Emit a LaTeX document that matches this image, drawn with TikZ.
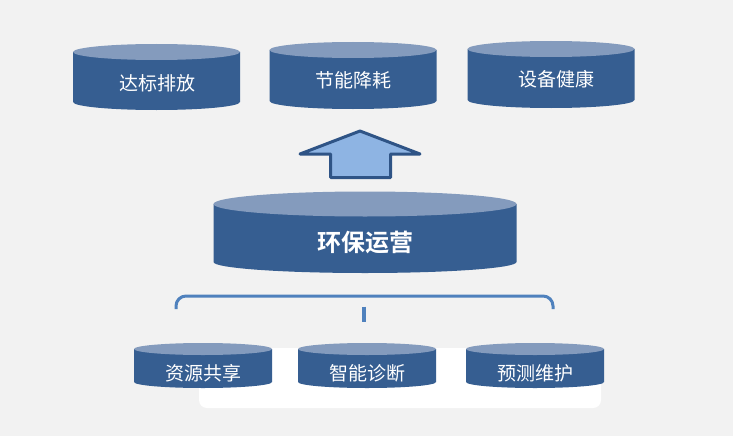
\documentclass[tikz,border=0pt]{standalone}
\usepackage{fontspec}
\newfontfamily\cjk{Noto Sans CJK SC}[BoldFont={Noto Sans CJK SC Bold}]
\definecolor{bgGray}{RGB}{242,242,242}
\definecolor{drumBody}{RGB}{54,94,145}
\definecolor{drumTop}{RGB}{132,155,189}
\definecolor{arrowFill}{RGB}{142,180,227}
\definecolor{arrowLine}{RGB}{47,84,134}
\definecolor{braceLine}{RGB}{79,129,189}
\tikzset{
    drum body/.style={fill=drumBody},
    drum top/.style={fill=drumTop},
    % white labels on the drums
    drum label/.style={
        text=white,
        font=\cjk\fontsize{19}{19}\selectfont,
        inner sep=0pt
    },
    core label/.style={
        text=white,
        font=\cjk\bfseries\fontsize{24}{24}\selectfont,
        inner sep=0pt
    }
}

\begin{document}
\begin{tikzpicture}[x=1pt,y=-1pt]

% canvas
\path[use as bounding box] (0,0) rectangle (733,436);
\fill[bgGray] (0,0) rectangle (733,436);

% white panel behind the lower drums
\fill[white, rounded corners=8] (199,348) rectangle (601,408);

% top row of drums
\fill[drum body] (73,52) -- (73,102) arc (180:0:83.5 and 8) -- (240,52) -- cycle;
\fill[drum top] (156.5,52) ellipse [x radius=83.5, y radius=8];
\node[drum label] (goalStd) at (157,83) {达标排放};

\fill[drum body] (269.5,50) -- (269.5,101) arc (180:0:83.5 and 8) -- (436.5,50) -- cycle;
\fill[drum top] (353,50) ellipse [x radius=83.5, y radius=8];
\node[drum label] (goalSave) at (353,80) {节能降耗};

\fill[drum body] (467.5,49) -- (467.5,100) arc (180:0:83.5 and 8) -- (634.5,49) -- cycle;
\fill[drum top] (551,49) ellipse [x radius=83.5, y radius=8];
\node[drum label] (goalHealth) at (556,79) {设备健康};

% block arrow pointing up
\filldraw[fill=arrowFill, draw=arrowLine, line width=3pt, line join=round]
  (360,131) -- (420,154) -- (390.5,154) -- (390.5,177.5)
  -- (330.5,177.5) -- (330.5,154) -- (300,154) -- cycle;

% main drum
\fill[drum body] (213.5,204) -- (213.5,262) arc (180:0:151.5 and 11) -- (516.5,204) -- cycle;
\fill[drum top] (365,204) ellipse [x radius=151.5, y radius=12.5];
\node[core label] (core) at (365,243) {环保运营};

% bracket
\draw[braceLine, line width=3pt, rounded corners=10]
  (176,309) -- (176,296) -- (553,296) -- (553,309);
\draw[braceLine, line width=3.5pt] (364,306.5) -- (364,322);

% bottom row of drums
\fill[drum body] (134,349) -- (134,382) arc (180:0:69 and 6) -- (272,349) -- cycle;
\fill[drum top] (203,349) ellipse [x radius=69, y radius=6];
\node[drum label] (share) at (203,373) {资源共享};

\fill[drum body] (298,349) -- (298,382) arc (180:0:69 and 6) -- (436,349) -- cycle;
\fill[drum top] (367,349) ellipse [x radius=69, y radius=6];
\node[drum label] (diag) at (367,373) {智能诊断};

\fill[drum body] (466,349) -- (466,382) arc (180:0:69 and 6) -- (604,349) -- cycle;
\fill[drum top] (535,349) ellipse [x radius=69, y radius=6];
\node[drum label] (maint) at (535,373) {预测维护};

\end{tikzpicture}
\end{document}
